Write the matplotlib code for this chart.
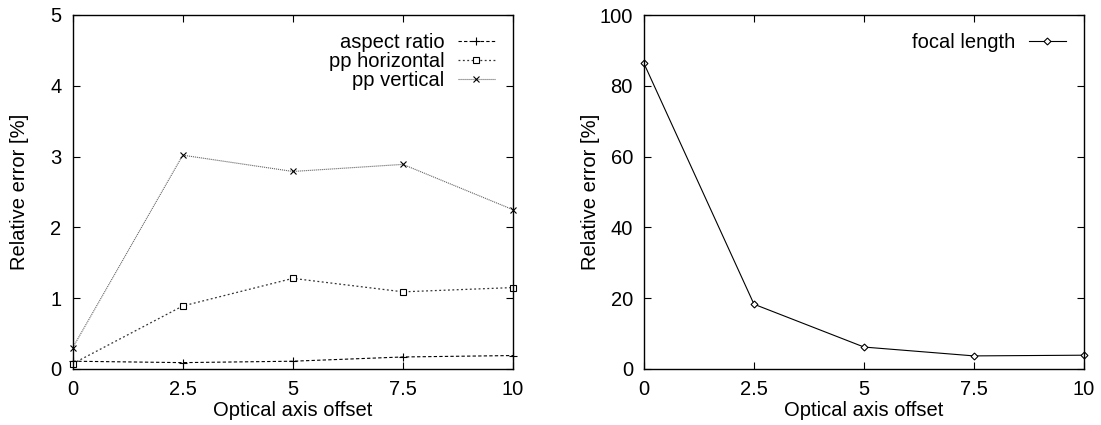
import matplotlib
matplotlib.use("Agg")
import matplotlib.pyplot as plt

plt.rcParams['font.family'] = ['Liberation Sans', 'DejaVu Sans']
plt.rcParams['font.size'] = 14.5

# Data
offsets = [0, 2.5, 5, 7.5, 10]
offset_labels = ["0", "2.5", "5", "7.5", "10"]
aspect_ratio = [0.11, 0.09, 0.11, 0.17, 0.19]
pp_horizontal = [0.075, 0.89, 1.28, 1.09, 1.15]
pp_vertical = [0.30, 3.02, 2.79, 2.89, 2.25]
focal_length = [86.3, 18.3, 6.2, 3.7, 3.9]

fig = plt.figure(figsize=(11.01, 4.25), dpi=100)
W, H = 1101, 425
ax1 = fig.add_axes([72.7 / W, 1 - 369 / H, (513 - 72.7) / W, (369 - 15) / H])
ax2 = fig.add_axes([644 / W, 1 - 369 / H, (1084 - 644) / W, (369 - 15) / H])


def style_axis(ax):
    ax.set_xlim(0, 10)
    ax.set_xticks(offsets)
    ax.set_xticklabels(offset_labels)
    ax.tick_params(direction="in", top=True, right=True, length=5, width=0.8,
                   labelsize=14.5, pad=8)
    for s in ax.spines.values():
        s.set_linewidth(1.0)
    ax.set_xlabel("Optical axis offset", fontsize=14.5, labelpad=1)
    ax.set_ylabel("Relative error [%]", fontsize=14.5)
    # gnuplot keeps the y label at the same distance from both frames
    ax.yaxis.set_label_coords(-0.1, 0.5)


leg_kw = dict(loc="upper right", frameon=False, markerfirst=False, handlelength=1.85,
              handletextpad=0.65, labelspacing=0.0, borderaxespad=0.5, borderpad=0.4,
              fontsize=14.5)

# Left panel
ax1.plot(offsets, aspect_ratio, color="black", linestyle=(0, (3, 2)), linewidth=0.8,
         marker="+", markersize=6, markeredgewidth=0.8, label="aspect ratio", clip_on=False)
ax1.plot(offsets, pp_horizontal, color="#333333", linestyle=(0, (1.5, 2)), linewidth=0.9,
         marker="s", markersize=4.5, markerfacecolor="white", markeredgecolor="black",
         markeredgewidth=0.8, label="pp horizontal", clip_on=False)
ax1.plot(offsets, pp_vertical, color="#666666", linestyle=(0, (1, 0.8)), linewidth=0.8,
         marker="x", markersize=4.5, markeredgecolor="black", markeredgewidth=0.8,
         label="pp vertical", clip_on=False)
ax1.set_ylim(0, 5)
ax1.set_yticks([0, 1, 2, 3, 4, 5])
style_axis(ax1)
ax1.legend(**leg_kw)

# Right panel
ax2.plot(offsets, focal_length, color="black", linestyle="-", linewidth=0.8,
         marker="D", markersize=3.5, markerfacecolor="white", markeredgecolor="black",
         markeredgewidth=0.8, label="focal length", clip_on=False)
ax2.set_ylim(0, 100)
ax2.set_yticks([0, 20, 40, 60, 80, 100])
style_axis(ax2)
ax2.legend(**leg_kw)

fig.savefig("out.png", dpi=100)
